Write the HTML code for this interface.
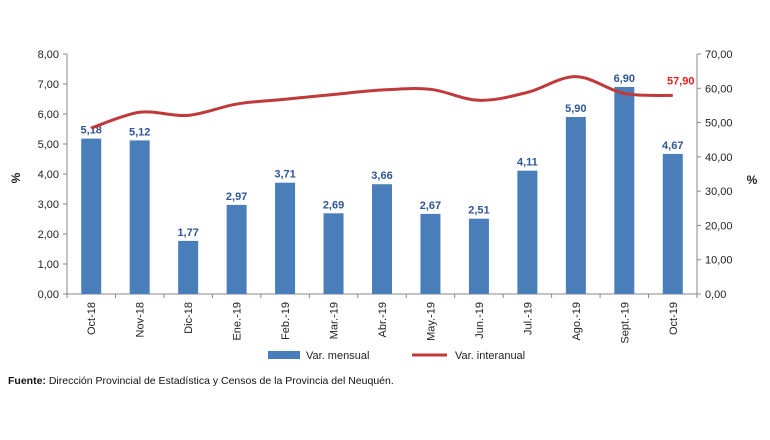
<!DOCTYPE html>
<html><head><meta charset="utf-8"><style>
body{margin:0;background:#fff;width:770px;height:435px;overflow:hidden;font-family:"Liberation Sans",Arial,sans-serif}
</style></head><body>
<svg id="chart" width="770" height="435" xmlns="http://www.w3.org/2000/svg" font-family="Liberation Sans, Arial, sans-serif"></svg>
<script>
const categories=["Oct-18","Nov-18","Dic-18","Ene.-19","Feb.-19","Mar.-19","Abr.-19","May.-19","Jun.-19","Jul.-19","Ago.-19","Sept.-19","Oct-19"];
const mensual=[5.18,5.12,1.77,2.97,3.71,2.69,3.66,2.67,2.51,4.11,5.90,6.90,4.67];
const interanual=[48.4,53.0,52.1,55.4,56.8,58.2,59.5,59.7,56.5,58.8,63.4,58.5,57.9];
const leftTicks=[0,1,2,3,4,5,6,7,8];
const rightTicks=[0,10,20,30,40,50,60,70];
const svg=document.getElementById('chart');
const NS='http://www.w3.org/2000/svg';
const X0=67,X1=697,Y0=294,Y1=54;
const band=(X1-X0)/categories.length;
const xc=i=>X0+band*(i+0.5);
const yL=v=>Y0-(v/8)*(Y0-Y1);
const yR=v=>Y0-(v/70)*(Y0-Y1);
const fmt=v=>v.toFixed(2).replace('.',',');
function mk(t,a,txt){const e=document.createElementNS(NS,t);for(const k in a)e.setAttribute(k,a[k]);if(txt!==undefined)e.textContent=txt;svg.appendChild(e);return e;}
// axes
let e=mk('line',{x1:X0,y1:Y1,x2:X0,y2:Y0,stroke:'#888'});


e=mk('line',{x1:X1,y1:Y1,x2:X1,y2:Y0,stroke:'#888'});


e=mk('line',{x1:X0,y1:Y0,x2:X1,y2:Y0,stroke:'#888'});


leftTicks.forEach(v=>{
  mk('line',{x1:X0-4,y1:yL(v),x2:X0,y2:yL(v),stroke:'#888'});
  e=mk('text',{x:X0-8,y:yL(v)+4,'text-anchor':'end','font-size':11,fill:'#222'},fmt(v));
  
  
});
rightTicks.forEach(v=>{
  mk('line',{x1:X1,y1:yR(v),x2:X1+4,y2:yR(v),stroke:'#888'});
  e=mk('text',{x:X1+8,y:yR(v)+4,'text-anchor':'start','font-size':11,fill:'#222'},fmt(v));
  
  
});
for(let i=0;i<=categories.length;i++){mk('line',{x1:X0+band*i,y1:Y0,x2:X0+band*i,y2:Y0+4,stroke:'#888'});}
e=mk('text',{x:0,y:0,'font-size':12,'font-weight':'bold',fill:'#222',transform:'translate(20,178) rotate(-90)','text-anchor':'middle'},'%');


e=mk('text',{x:752,y:184,'font-size':12,'font-weight':'bold',fill:'#222','text-anchor':'middle'},'%');


// bars
mensual.forEach((v,i)=>{
  e=mk('rect',{x:xc(i)-10,y:yL(v),width:20,height:Y0-yL(v),fill:'#4a7ebb'});
  
  
  e=mk('text',{x:xc(i),y:yL(v)-5,'text-anchor':'middle','font-size':11,'font-weight':'bold',fill:'#2f5597'},fmt(v));
  
  
  e=mk('text',{x:0,y:0,'text-anchor':'end','font-size':11,fill:'#222',transform:`translate(${xc(i)+4},${Y0+8}) rotate(-90)`},categories[i]);
  
  
});
// line (catmull-rom)
const pts=interanual.map((v,i)=>[xc(i),yR(v)]);
let d=`M${pts[0][0]},${pts[0][1]}`;
for(let i=0;i<pts.length-1;i++){
  const p0=pts[Math.max(i-1,0)],p1=pts[i],p2=pts[i+1],p3=pts[Math.min(i+2,pts.length-1)];
  const c1=[p1[0]+(p2[0]-p0[0])/6,p1[1]+(p2[1]-p0[1])/6];
  const c2=[p2[0]-(p3[0]-p1[0])/6,p2[1]-(p3[1]-p1[1])/6];
  d+=` C${c1[0]},${c1[1]} ${c2[0]},${c2[1]} ${p2[0]},${p2[1]}`;
}
e=mk('path',{d:d,fill:'none',stroke:'#c0393b','stroke-width':3});


const li=interanual.length-1;
e=mk('text',{x:xc(li)+8,y:yR(interanual[li])-11,'text-anchor':'middle','font-size':11,'font-weight':'bold',fill:'#e02020'},fmt(interanual[li]));


// legend
e=mk('rect',{x:268,y:351,width:32,height:8,fill:'#4a7ebb'});


e=mk('text',{x:306,y:359,'font-size':11,fill:'#222'},'Var. mensual');


e=mk('line',{x1:412,y1:355,x2:447,y2:355,stroke:'#c0393b','stroke-width':3});


e=mk('text',{x:455,y:359,'font-size':11,fill:'#222'},'Var. interanual');


// footer
e=mk('text',{x:8,y:384,'font-size':10.5,fill:'#111'},'');


const b=document.createElementNS(NS,'tspan');b.setAttribute('font-weight','bold');b.textContent='Fuente:';e.appendChild(b);
const t=document.createElementNS(NS,'tspan');t.textContent='  Dirección Provincial de Estadística y Censos de la Provincia del Neuquén.';e.appendChild(t);
</script>
</body></html>
